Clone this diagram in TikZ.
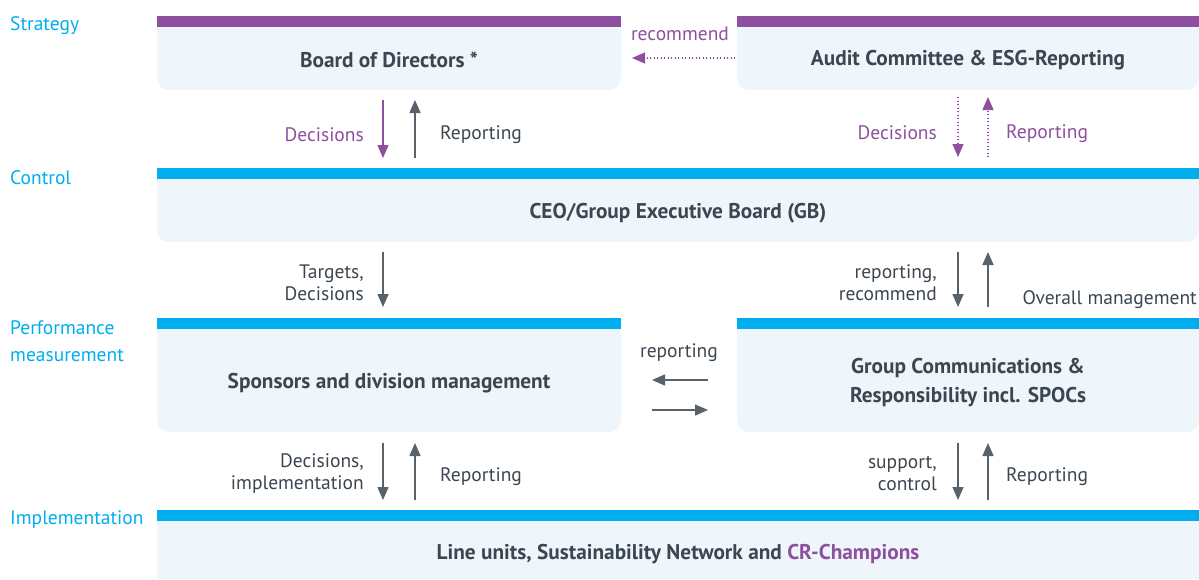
\documentclass[tikz,border=0pt]{standalone}
\usepackage{fontspec}
\setmainfont{PT Sans}
\usetikzlibrary{arrows.meta,positioning}
\definecolor{ink}{HTML}{3C4650}
\definecolor{lilac}{HTML}{8E4F9E}
\definecolor{sky}{HTML}{00AEEF}
\definecolor{panelbg}{HTML}{EEF6FB}
\tikzstyle{panel}=[fill=panelbg,rounded corners=12pt,inner sep=0pt]
\tikzstyle{title}=[font=\bfseries\fontsize{21.3}{29}\selectfont,text=ink,align=center,inner sep=0pt,yshift=-2pt]
\tikzstyle{level}=[anchor=west,text=sky,font=\fontsize{19.5}{27}\selectfont,align=left,inner sep=0pt,yshift=-2pt]
\tikzstyle{lbl}=[font=\fontsize{19.5}{22}\selectfont,text=ink,inner sep=0pt,yshift=-2pt]
\tikzstyle{flow}=[-{Triangle[length=13pt,width=11pt]},line width=1.5pt,draw=ink!85,fill=ink]
\tikzstyle{pflow}=[flow,draw=lilac,fill=lilac]
\tikzstyle{dflow}=[pflow,line width=1.3pt,dash pattern=on 1pt off 2.5pt]

\begin{document}
\begin{tikzpicture}[x=1pt,y=-1pt]
  \useasboundingbox (0,0) rectangle (1199,579);

  % panels
  \foreach \name/\x/\y/\w/\h in {bod/389/53/464/74, audit/968/53/462/74,
      ceo/678/205/1042/74, spons/389/375/464/114, comm/968/375/462/114}
    \node[panel,minimum width=\w pt,minimum height=\h pt] (\name) at (\x,\y) {};
  \node[panel,rounded corners=0pt,minimum width=1042pt,minimum height=69pt] (line) at (678,544.5) {};

  % bars
  \fill[lilac] (bod.north west) rectangle ([yshift=-11pt]bod.north east);
  \fill[lilac] (audit.north west) rectangle ([yshift=-11pt]audit.north east);
  \foreach \name in {ceo,spons,comm,line}
    \fill[sky] (\name.north west) rectangle ([yshift=-11pt]\name.north east);

  % titles
  \node[title] (bod-t) at (389,58) {Board of Directors *};
  \node[title] (audit-t) at (968,58) {Audit Committee \& ESG-Reporting};
  \node[title] (ceo-t) at (678,211) {CEO/Group Executive Board (GB)};
  \node[title] (spons-t) at (389,381) {Sponsors and division management};
  \node[title] (comm-t) at (968,381) {Group Communications \&\\Responsibility incl. SPOCs};
  \node[title] (line-t) at (678,552) {Line units, Sustainability Network and \textcolor{lilac}{CR-Champions}};

  % levels
  \node[level] (L-strat) at (10,24) {Strategy};
  \node[level] (L-ctrl) at (10,176) {Control};
  \node[level] (L-perf) at (10,339.5) {Performance\\measurement};
  \node[level] (L-impl) at (10,518) {Implementation};

  % arrow ends
  \foreach \name/\x/\ya/\yb in {s1/383/100/158, s2/415/100/158, s3/958/97/157, s4/988/97/157,
      c1/383/252/307, c2/958/252/307, c3/988/252/307,
      p1/383/443/500, p2/415/443/500, p3/958/443/500, p4/988/443/500}
  {
    \coordinate (\name-a) at (\x,\ya);
    \coordinate (\name-b) at (\x,\yb);
  }
  \coordinate (rec-a) at (735,58);
  \coordinate (rec-b) at (632,58);
  \coordinate (h1-a) at (708,380);
  \coordinate (h1-b) at (652,380);
  \coordinate (h2-a) at (652,410);
  \coordinate (h2-b) at (708,410);

  % arrows
  \draw[dflow] (rec-a) -- (rec-b);
  \draw[pflow] (s1-a) -- (s1-b);
  \draw[flow] (s2-b) -- (s2-a);
  \draw[dflow] (s3-a) -- (s3-b);
  \draw[dflow] (s4-b) -- (s4-a);
  \draw[flow] (c1-a) -- (c1-b);
  \draw[flow] (c2-a) -- (c2-b);
  \draw[flow] (c3-b) -- (c3-a);
  \draw[flow] (h1-a) -- (h1-b);
  \draw[flow] (h2-a) -- (h2-b);
  \draw[flow] (p1-a) -- (p1-b);
  \draw[flow] (p2-b) -- (p2-a);
  \draw[flow] (p3-a) -- (p3-b);
  \draw[flow] (p4-b) -- (p4-a);

  % labels
  \node[lbl,text=lilac] (rec-l) at (680,32) {recommend};
  \node[lbl,text=lilac,anchor=east] (s1-l) at (364,133) {Decisions};
  \node[lbl,anchor=west] (s2-l) at (440,133) {Reporting};
  \node[lbl,text=lilac,anchor=east] (s3-l) at (937,131) {Decisions};
  \node[lbl,text=lilac,anchor=west] (s4-l) at (1006,132) {Reporting};
  \node[lbl,anchor=east,align=right] (c1-l) at (364,281) {Targets,\\Decisions};
  \node[lbl,anchor=east,align=right] (c2-l) at (937,281) {reporting,\\recommend};
  \node[lbl,anchor=east] (c3-l) at (1197,298) {Overall management};
  \node[lbl] (h-l) at (679,351) {reporting};
  \node[lbl,anchor=east,align=right] (p1-l) at (364,472) {Decisions,\\implementation};
  \node[lbl,anchor=west] (p2-l) at (440,475) {Reporting};
  \node[lbl,anchor=east,align=right] (p3-l) at (937,472) {support,\\control};
  \node[lbl,anchor=west] (p4-l) at (1006,475) {Reporting};
\end{tikzpicture}
\end{document}
